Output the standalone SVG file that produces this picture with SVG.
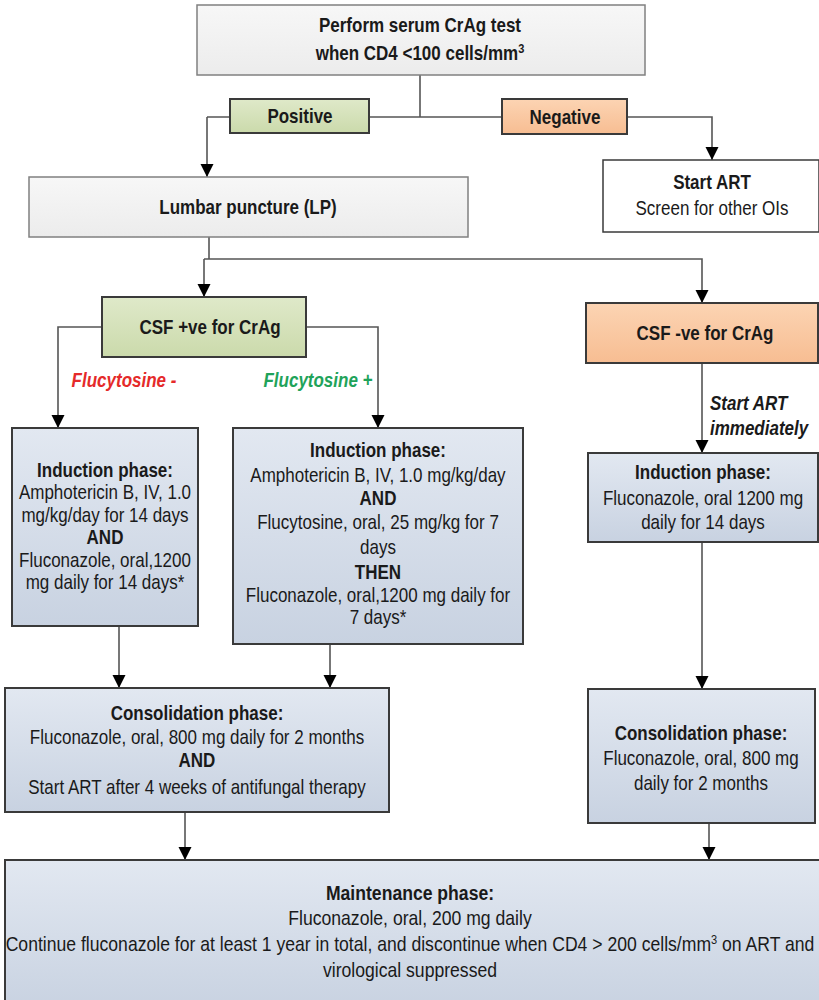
<svg xmlns="http://www.w3.org/2000/svg" width="819" height="1000" viewBox="0 0 819 1000">
<defs>
<linearGradient id="gBlue" x1="0" y1="0" x2="0" y2="1"><stop offset="0" stop-color="#e2e8f1"/><stop offset="1" stop-color="#c8d2e1"/></linearGradient>
<linearGradient id="gGreen" x1="0" y1="0" x2="0" y2="1"><stop offset="0" stop-color="#dfe9c9"/><stop offset="1" stop-color="#cbdaab"/></linearGradient>
<linearGradient id="gOrange" x1="0" y1="0" x2="0" y2="1"><stop offset="0" stop-color="#fcd4b3"/><stop offset="1" stop-color="#f7bd92"/></linearGradient>
<linearGradient id="gGray" x1="0" y1="0" x2="0" y2="1"><stop offset="0" stop-color="#f7f7f7"/><stop offset="1" stop-color="#ececec"/></linearGradient>
<marker id="arr" markerUnits="userSpaceOnUse" markerWidth="13" markerHeight="14" refX="13" refY="6.5" orient="auto">
<path d="M0,0 L13,6.5 L0,13 z" fill="#000"/>
</marker>
</defs>
<style>
text{font-family:"Liberation Sans",Arial,sans-serif;font-size:20px;fill:#1a1a1a;text-anchor:middle}
.b{font-weight:bold}
.lbl{font-weight:bold;font-style:italic}
.red{fill:#e52a2a}
.grn{fill:#1fa35a}
.big{font-size:20.7px}
.gray{fill:url(#gGray);stroke:#808080;stroke-width:1.5}
.blue{fill:url(#gBlue);stroke:#3a3a3a;stroke-width:2}
.green{fill:url(#gGreen);stroke:#3a3a3a;stroke-width:2}
.orange{fill:url(#gOrange);stroke:#3a3a3a;stroke-width:2}
.white{fill:#fff;stroke:#3a3a3a;stroke-width:1.5}
.c{fill:none;stroke:#555;stroke-width:1.6}
.ca{fill:none;stroke:#555;stroke-width:1.6;marker-end:url(#arr)}
</style>
<rect width="819" height="1000" fill="#fff"/>
<g id="connectors">
<path class="c" d="M420,75 V117"/>
<path class="ca" d="M207,117 H712 V160"/>
<path class="ca" d="M207,117 V177"/>
<path class="c" d="M209,237 V259"/>
<path class="ca" d="M204,259 V297"/>
<path class="ca" d="M204,259 H702 V303"/>
<path class="ca" d="M102,327 H58 V428"/>
<path class="ca" d="M306,327 H378 V428"/>
<path class="ca" d="M702,363 V453"/>
<path class="ca" d="M119,626 V688"/>
<path class="ca" d="M330,644 V688"/>
<path class="ca" d="M702,542 V689"/>
<path class="ca" d="M185,812 V860"/>
<path class="ca" d="M709,823 V860"/>
</g>
<g id="crag-test">
<rect class="gray" x="197" y="5" width="448" height="70"/>
<g transform="matrix(0.85 0 0 1 63 0)">
<text class="b" x="420" y="32">Perform serum CrAg test</text>
<text class="b" x="420" y="60">when CD4 &lt;100 cells/mm<tspan font-size="13" dy="-7">3</tspan></text>
</g>
</g>
<g id="positive">
<rect class="green" x="230" y="99" width="139" height="34"/>
<text class="b" x="300" y="123" transform="matrix(0.85 0 0 1 45 0)">Positive</text>
</g>
<g id="negative">
<rect class="orange" x="502" y="99" width="125" height="35"/>
<text class="b" x="565" y="124" transform="matrix(0.85 0 0 1 84.75 0)">Negative</text>
</g>
<g id="start-art">
<rect class="white" x="603" y="160" width="216" height="72"/>
<g transform="matrix(0.85 0 0 1 106.8 0)">
<text class="b" x="712" y="189">Start ART</text>
<text x="712" y="215">Screen for other OIs</text>
</g>
</g>
<g id="lumbar-puncture">
<rect class="gray" x="29" y="177" width="439" height="60"/>
<text class="b" x="248" y="214" transform="matrix(0.85 0 0 1 37.2 0)">Lumbar puncture (LP)</text>
</g>
<g id="csf-positive">
<rect class="green" x="102" y="297" width="204" height="60"/>
<text class="b" x="210" y="334" transform="matrix(0.85 0 0 1 31.5 0)">CSF +ve for CrAg</text>
</g>
<g id="csf-negative">
<rect class="orange" x="586" y="303" width="232" height="60"/>
<text class="b" x="705" y="340" transform="matrix(0.85 0 0 1 105.75 0)">CSF -ve for CrAg</text>
</g>
<g id="labels">
<text class="lbl red" x="124" y="387" transform="matrix(0.85 0 0 1 18.6 0)">Flucytosine -</text>
<text class="lbl grn" x="318" y="387" transform="matrix(0.85 0 0 1 47.7 0)">Flucytosine +</text>
<g transform="matrix(0.85 0 0 1 106.5 0)">
<text class="lbl" x="710" y="410" style="text-anchor:start">Start ART</text>
<text class="lbl" x="710" y="435" style="text-anchor:start">immediately</text>
</g>
</g>
<g id="induction-left">
<rect class="blue" x="12" y="428" width="186" height="198"/>
<g transform="matrix(0.85 0 0 1 15.75 0)">
<text class="b" x="105" y="477">Induction phase:</text>
<text x="105" y="499">Amphotericin B, IV, 1.0</text>
<text x="105" y="522">mg/kg/day for 14 days</text>
<text class="b" x="105" y="544">AND</text>
<text x="105" y="567">Fluconazole, oral,1200</text>
<text x="105" y="589">mg daily for 14 days*</text>
</g>
</g>
<g id="induction-middle">
<rect class="blue" x="233" y="428" width="290" height="216"/>
<g transform="matrix(0.85 0 0 1 56.7 0)">
<text class="b" x="378" y="457">Induction phase:</text>
<text x="378" y="482">Amphotericin B, IV, 1.0 mg/kg/day</text>
<text class="b" x="378" y="505">AND</text>
<text x="378" y="529">Flucytosine, oral, 25 mg/kg for 7</text>
<text x="378" y="554">days</text>
<text class="b" x="378" y="579">THEN</text>
<text x="378" y="602">Fluconazole, oral,1200 mg daily for</text>
<text x="378" y="624">7 days*</text>
</g>
</g>
<g id="induction-right">
<rect class="blue" x="588" y="453" width="230" height="89"/>
<g transform="matrix(0.85 0 0 1 105.45 0)">
<text class="b" x="703" y="479">Induction phase:</text>
<text x="703" y="505">Fluconazole, oral 1200 mg</text>
<text x="703" y="529">daily for 14 days</text>
</g>
</g>
<g id="consolidation-left">
<rect class="blue" x="5" y="688" width="384" height="124"/>
<g transform="matrix(0.85 0 0 1 29.55 0)">
<text class="b" x="197" y="720">Consolidation phase:</text>
<text x="197" y="744">Fluconazole, oral, 800 mg daily for 2 months</text>
<text class="b" x="197" y="767">AND</text>
<text x="197" y="794">Start ART after 4 weeks of antifungal therapy</text>
</g>
</g>
<g id="consolidation-right">
<rect class="blue" x="588" y="689" width="227" height="134"/>
<g transform="matrix(0.85 0 0 1 105.15 0)">
<text class="b" x="701" y="740">Consolidation phase:</text>
<text x="701" y="765">Fluconazole, oral, 800 mg</text>
<text x="701" y="790">daily for 2 months</text>
</g>
</g>
<g id="maintenance">
<rect class="blue" x="5" y="860" width="830" height="150"/>
<g transform="matrix(0.85 0 0 1 61.5 0)">
<text class="b big" x="410" y="900">Maintenance phase:</text>
<text class="big" x="410" y="925">Fluconazole, oral, 200 mg daily</text>
<text class="big" x="410" y="951">Continue fluconazole for at least 1 year in total, and discontinue when CD4 &gt; 200 cells/mm<tspan font-size="13" dy="-7">3</tspan><tspan dy="7"> on ART and</tspan></text>
<text class="big" x="410" y="977">virological suppressed</text>
</g>
</g>
</svg>
